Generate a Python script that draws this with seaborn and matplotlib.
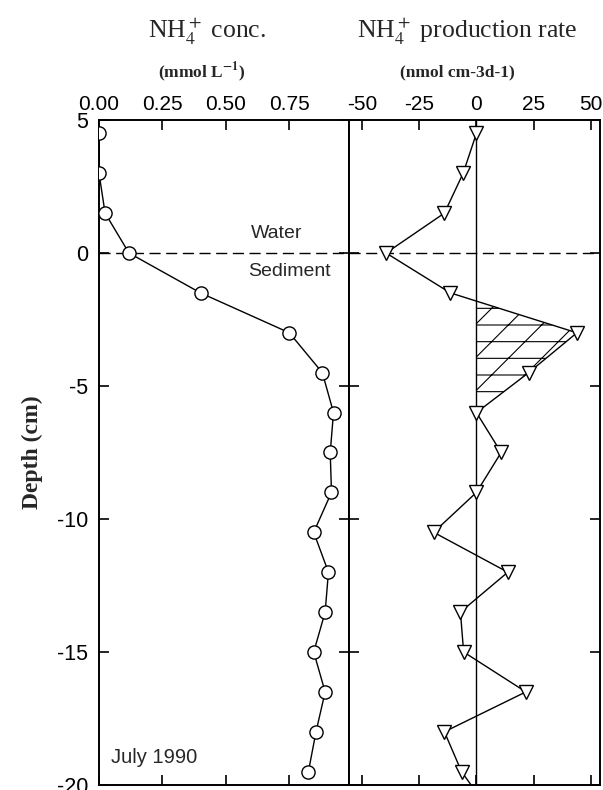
import numpy as np
import pandas as pd
import matplotlib
matplotlib.use("Agg")
import matplotlib.pyplot as plt
import seaborn as sns

# ---- data ----
depth = [4.5, 3.0, 1.5, 0.0, -1.5, -3.0, -4.5, -6.0, -7.5, -9.0, -10.5,
         -12.0, -13.5, -15.0, -16.5, -18.0, -19.5]
nh4_conc = [0.0, 0.0, 0.024, 0.118, 0.40, 0.75, 0.88, 0.924, 0.911, 0.916,
            0.846, 0.904, 0.891, 0.846, 0.891, 0.855, 0.825]
rate_depth = [4.5, 3.0, 1.5, 0.0, -1.5, -3.0, -4.5, -6.0, -7.5, -9.0, -10.5,
              -12.0, -13.5, -15.0, -16.5, -18.0, -19.5, -21.0]
nh4_rate = [0.0, -5.8, -14.0, -39.5, -11.4, 43.9, 22.8, 0.0, 10.8, 0.0,
            -18.7, 13.7, -7.0, -5.6, 21.6, -14.0, -6.5, 6.0]
conc_ticks = [0.0, 0.25, 0.5, 0.75]
conc_ticklabels = ["0.00", "0.25", "0.50", "0.75"]
rate_ticks = [-50, -25, 0, 25, 50]
depth_ticks = [5, 0, -5, -10, -15, -20]

sns.set_style("white")
plt.rcParams["font.family"] = ["Liberation Sans", "DejaVu Sans"]
plt.rcParams["mathtext.fontset"] = "stix"
plt.rcParams["hatch.linewidth"] = 0.8

fig = plt.figure(figsize=(6.03, 7.90), dpi=100)
axL = fig.add_axes([99 / 603, 1 - 785 / 790, 250 / 603, 665 / 790])
axR = fig.add_axes([349 / 603, 1 - 785 / 790, 251 / 603, 665 / 790])

dfL = pd.DataFrame({"conc": nh4_conc, "depth": depth})
dfR = pd.DataFrame({"rate": nh4_rate, "depth": rate_depth})

sns.lineplot(data=dfL, x="conc", y="depth", orient="y", estimator=None,
             sort=False, ax=axL, color="black", lw=1.0, marker="o",
             markersize=9.5, markerfacecolor="white", markeredgecolor="black",
             markeredgewidth=1.0, zorder=3)
sns.lineplot(data=dfR, x="rate", y="depth", orient="y", estimator=None,
             sort=False, ax=axR, color="black", lw=1.0, marker="v",
             markersize=10.5, markerfacecolor="white", markeredgecolor="black",
             markeredgewidth=1.0, zorder=3)

# hatched production zone
sub = dfR[(dfR["depth"] <= -1.5) & (dfR["depth"] >= -6.0)]
axR.fill_betweenx(sub["depth"].values, 0, sub["rate"].values,
                  where=sub["rate"].values > 0, interpolate=True,
                  facecolor="none", edgecolor="black", hatch="/-", lw=0,
                  zorder=1)

axR.axvline(0, color="black", lw=1.0, zorder=2)
for ax in (axL, axR):
    ax.axhline(0, color="black", lw=1.0, ls=(0, (8, 4)), zorder=2)

axL.set_xlim(0, 0.985)
axR.set_xlim(-55.7, 54)
for ax in (axL, axR):
    ax.set_ylim(-20, 5)
    ax.set_yticks(depth_ticks)
    for s in ax.spines.values():
        s.set_linewidth(1.4)
        s.set_color("black")
    ax.tick_params(axis="both", direction="in", length=7, width=1.2,
                   colors="black", labelsize=15,
                   top=True, bottom=True, labeltop=True, labelbottom=False,
                   left=True, right=True)
    ax.set_xlabel("")
    ax.set_ylabel("")

axL.set_xticks(conc_ticks)
axL.set_xticklabels(conc_ticklabels)
axL.set_yticks(depth_ticks)
axL.set_yticklabels([str(t) for t in depth_ticks])
axL.tick_params(axis="y", labelsize=15.5, pad=8)
axR.set_xticks(rate_ticks)
axR.set_xticklabels([str(t) for t in rate_ticks])
axR.tick_params(labelleft=False)
axL.tick_params(axis="x", pad=4)
axR.tick_params(axis="x", pad=4)

axL.set_ylabel("Depth (cm)", family=["Liberation Serif"], fontweight="bold",
               fontsize=17, labelpad=10)

# titles and units
fig.text(207 / 603, 1 - 31 / 790, r"NH$_4^+$ conc.", ha="center", va="center",
         family=["Liberation Serif"], fontsize=18.5)
fig.text(467 / 603, 1 - 31 / 790, r"NH$_4^+$ production rate", ha="center",
         va="center", family=["Liberation Serif"], fontsize=18.5)
fig.text(202 / 603, 1 - 72 / 790, r"(mmol L$^{\mathbf{-1}}$)", ha="center",
         va="center", family=["Liberation Serif"], fontweight="bold",
         fontsize=12.5)
fig.text(457 / 603, 1 - 72 / 790, "(nmol cm-3d-1)", ha="center",
         va="center", family=["Liberation Serif"], fontweight="bold",
         fontsize=12.5)

axL.text(0.70, 0.75, "Water", ha="center", va="center", fontsize=14)
axL.text(0.75, -0.7, "Sediment", ha="center", va="center", fontsize=14)
axL.text(0.217, -18.95, "July 1990", ha="center", va="center", fontsize=14.5)

fig.savefig("out.png", dpi=100, facecolor="white")
